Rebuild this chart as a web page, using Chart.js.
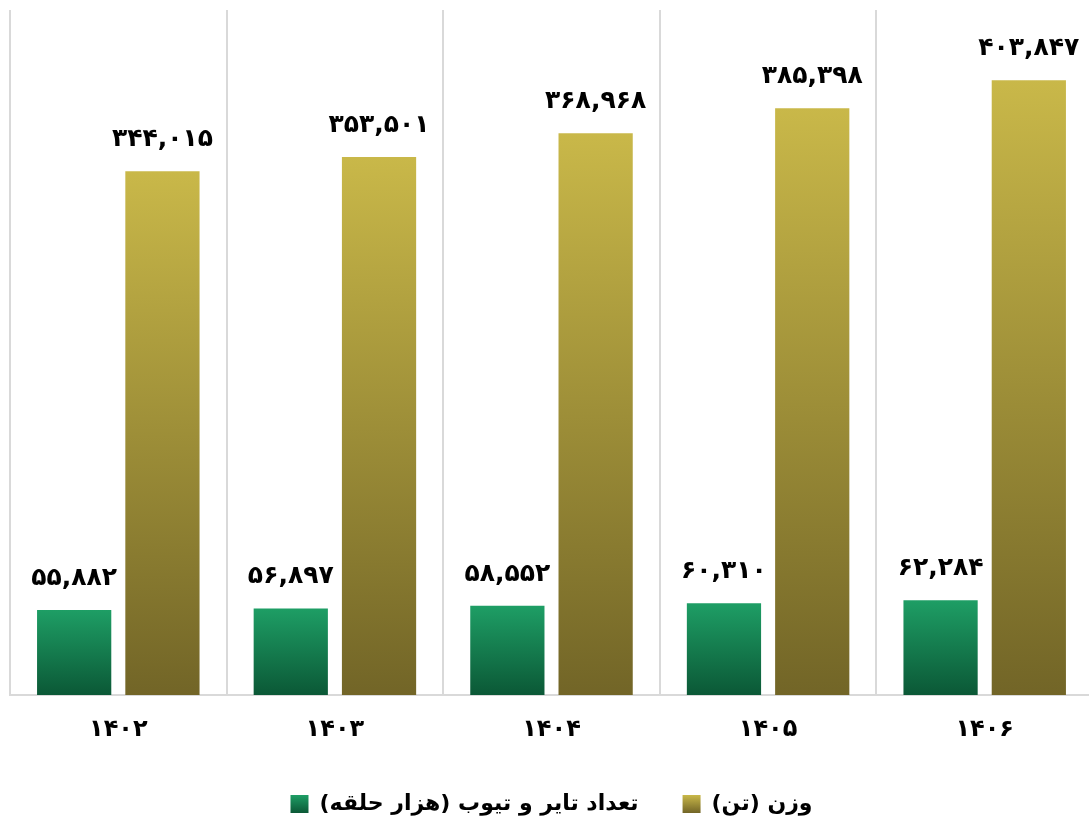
<!DOCTYPE html>
<html>
<head>
<meta charset="utf-8">
<script src="https://cdn.jsdelivr.net/npm/chart.js@4.4.1/dist/chart.umd.min.js"></script>
<style>
html,body{margin:0;padding:0;background:#fff;overflow:hidden;}
#wrap{width:1089px;height:818px;position:relative;overflow:hidden;}
#c{position:absolute;left:0;top:0;}
</style>
</head>
<body>
<div id="wrap"><canvas id="c" width="1093" height="818"></canvas></div>
<script>
const categories = ['۱۴۰۲', '۱۴۰۳', '۱۴۰۴', '۱۴۰۵', '۱۴۰۶'];
const seriesNames = ['تعداد تایر و تیوب (هزار حلقه)', 'وزن (تن)'];
const countValues = [55882, 56897, 58552, 60310, 62284];
const weightValues = [344015, 353501, 368968, 385398, 403847];
const yMin = 0;
const yMax = 450000;

const FONT = "'DejaVu Sans', sans-serif";
const faDigits = '۰۱۲۳۴۵۶۷۸۹';
function toFa(v) {
  return v.toLocaleString('en-US').replace(/\d/g, d => faDigits[+d]);
}

const palettes = [
  ['#1E9E65', '#0B5836'],
  ['#C9B849', '#726527']
];

function barGradient(ctx, idx) {
  const chart = ctx.chart;
  const area = chart.chartArea;
  if (!area || ctx.dataIndex === undefined) return palettes[idx][0];
  const v = ctx.dataset.data[ctx.dataIndex];
  const top = chart.scales.y.getPixelForValue(v);
  const g = chart.ctx.createLinearGradient(0, top, 0, area.bottom);
  g.addColorStop(0, palettes[idx][0]);
  g.addColorStop(1, palettes[idx][1]);
  return g;
}

const valueLabels = {
  id: 'valueLabels',
  afterDatasetsDraw(chart) {
    const c = chart.ctx;
    c.save();
    c.font = "bold 25px " + FONT;
    c.fillStyle = '#000';
    c.textAlign = 'center';
    c.textBaseline = 'alphabetic';
    c.direction = 'ltr';
    chart.data.datasets.forEach((ds, di) => {
      const meta = chart.getDatasetMeta(di);
      meta.data.forEach((el, i) => {
        c.fillText(toFa(ds.data[i]), el.x, el.y - 25);
      });
    });
    c.restore();
  }
};

const chart = new Chart(document.getElementById('c'), {
  type: 'bar',
  data: {
    labels: categories,
    datasets: [
      {
        label: seriesNames[0],
        data: countValues,
        backgroundColor: (ctx) => barGradient(ctx, 0),
        borderWidth: 0,
        barPercentage: 0.841,
        categoryPercentage: 0.815
      },
      {
        label: seriesNames[1],
        data: weightValues,
        backgroundColor: (ctx) => barGradient(ctx, 1),
        borderWidth: 0,
        barPercentage: 0.841,
        categoryPercentage: 0.815
      }
    ]
  },
  options: {
    responsive: false,
    animation: false,
    layout: { padding: { top: 10, left: 10, right: 0, bottom: -7 } },
    scales: {
      x: {
        grid: { color: '#D9D9D9', lineWidth: 2, drawTicks: false, offset: true },
        border: { color: '#D9D9D9', width: 2 },
        ticks: { color: '#000', font: { family: FONT, size: 24, weight: 'bold' }, padding: 20 },
        afterFit(scale) { scale.height = 54; }
      },
      y: {
        display: false,
        min: yMin,
        max: yMax
      }
    },
    plugins: {
      tooltip: { enabled: false },
      legend: {
        position: 'bottom',
        textDirection: 'rtl',
        labels: {
          color: '#000',
          font: { family: FONT, size: 22, weight: 'bold' },
          boxWidth: 18,
          boxHeight: 18,
          padding: 44,
          generateLabels(chart) {
            const items = Chart.defaults.plugins.legend.labels.generateLabels(chart);
            items.forEach((it, i) => {
              const g = chart.ctx.createLinearGradient(0, 795, 0, 813);
              g.addColorStop(0, palettes[i][0]);
              g.addColorStop(1, palettes[i][1]);
              it.fillStyle = g;
              it.lineWidth = 0;
              it.strokeStyle = 'rgba(0,0,0,0)';
            });
            return items;
          }
        }
      }
    }
  },
  plugins: [valueLabels]
});
</script>
</body>
</html>
